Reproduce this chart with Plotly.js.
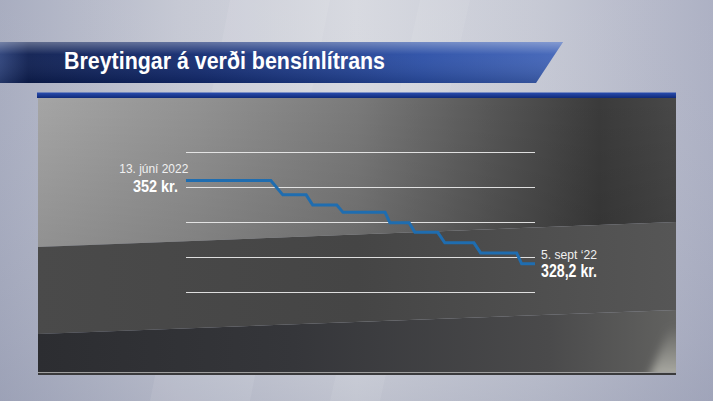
<!DOCTYPE html>
<html>
<head>
<meta charset="utf-8">
<script src="https://cdn.plot.ly/plotly-3.0.1.min.js"></script>
<style>
html,body{margin:0;padding:0;width:713px;height:401px;overflow:hidden;}
#wrap{position:relative;width:713px;height:401px;}
#bg{position:absolute;left:0;top:0;}
#chart{position:absolute;left:0;top:0;width:713px;height:401px;}
</style>
</head>
<body>
<div id="wrap">
<svg id="bg" width="713" height="401" xmlns="http://www.w3.org/2000/svg">
  <defs>
    <linearGradient id="bgG" x1="0" y1="0" x2="1" y2="0">
      <stop offset="0" stop-color="#a4a9bd"/>
      <stop offset="0.25" stop-color="#c3c6d2"/>
      <stop offset="0.5" stop-color="#d6d8df"/>
      <stop offset="0.75" stop-color="#c4c7d3"/>
      <stop offset="1" stop-color="#a9adc1"/>
    </linearGradient>
    <linearGradient id="bgV" x1="0" y1="0" x2="0" y2="1">
      <stop offset="0" stop-color="#ffffff" stop-opacity="0.05"/>
      <stop offset="0.85" stop-color="#8a90a8" stop-opacity="0.15"/>
      <stop offset="1" stop-color="#8a90a8" stop-opacity="0.3"/>
    </linearGradient>
    <linearGradient id="banG" x1="0" y1="0" x2="1" y2="0">
      <stop offset="0" stop-color="#2a3f78"/>
      <stop offset="0.05" stop-color="#0c1d50"/>
      <stop offset="0.35" stop-color="#122a70"/>
      <stop offset="0.75" stop-color="#2a4ea6"/>
      <stop offset="1" stop-color="#4164b8"/>
    </linearGradient>
    <linearGradient id="banH" x1="0" y1="0" x2="0" y2="1">
      <stop offset="0" stop-color="#ffffff" stop-opacity="0.35"/>
      <stop offset="0.3" stop-color="#ffffff" stop-opacity="0.05"/>
      <stop offset="1" stop-color="#000000" stop-opacity="0.15"/>
    </linearGradient>
    <linearGradient id="barG" x1="0" y1="0" x2="0" y2="1">
      <stop offset="0" stop-color="#2a4db0"/>
      <stop offset="1" stop-color="#102a78"/>
    </linearGradient>
    <linearGradient id="gA" x1="0" y1="0" x2="1" y2="0">
      <stop offset="0" stop-color="#a5a5a5"/>
      <stop offset="0.25" stop-color="#929292"/>
      <stop offset="0.5" stop-color="#7a7a7a"/>
      <stop offset="0.72" stop-color="#555555"/>
      <stop offset="0.88" stop-color="#3b3b3b"/>
      <stop offset="1" stop-color="#484848"/>
    </linearGradient>
    <linearGradient id="gAv" x1="0" y1="0" x2="0" y2="1">
      <stop offset="0" stop-color="#000" stop-opacity="0"/>
      <stop offset="1" stop-color="#000" stop-opacity="0.12"/>
    </linearGradient>
    <linearGradient id="gB" x1="0" y1="0" x2="1" y2="0">
      <stop offset="0" stop-color="#4a4a4a"/>
      <stop offset="0.5" stop-color="#454545"/>
      <stop offset="1" stop-color="#565656"/>
    </linearGradient>
    <linearGradient id="gC" x1="0" y1="0" x2="1" y2="0">
      <stop offset="0" stop-color="#2c2d31"/>
      <stop offset="0.4" stop-color="#35363a"/>
      <stop offset="0.8" stop-color="#4a4a4b"/>
      <stop offset="1" stop-color="#626260"/>
    </linearGradient>
    <linearGradient id="flare" x1="0" y1="0" x2="0" y2="1">
      <stop offset="0" stop-color="#e8e8dc" stop-opacity="0"/>
      <stop offset="1" stop-color="#e8e8dc" stop-opacity="0.6"/>
    </linearGradient>
    <filter id="blur" x="-50%" y="-50%" width="200%" height="200%">
      <feGaussianBlur stdDeviation="4"/>
    </filter>
    <clipPath id="panelClip"><rect x="38" y="98" width="638" height="274"/></clipPath>
  </defs>
  <rect x="0" y="0" width="713" height="401" fill="url(#bgG)"/>
  <rect x="0" y="0" width="713" height="401" fill="url(#bgV)"/>
  <polygon points="230,0 330,0 250,401 150,401" fill="#ffffff" opacity="0.08"/>
  <polygon points="420,0 470,0 380,401 330,401" fill="#ffffff" opacity="0.07"/>
  <polygon points="0,42 563,42 536,83 0,83" fill="url(#banG)"/>
  <polygon points="0,42 563,42 536,83 0,83" fill="url(#banH)"/>
  <rect x="37" y="92.5" width="639" height="5.5" fill="url(#barG)"/>
  <polygon points="38,98 676,98 676,222 38,247" fill="url(#gA)"/>
  <polygon points="38,98 676,98 676,222 38,247" fill="url(#gAv)"/>
  <polygon points="38,247 676,222 676,310 38,334" fill="url(#gB)"/>
  <polygon points="38,334 676,310 676,373 38,373" fill="url(#gC)"/>
  <g clip-path="url(#panelClip)">
    <polygon points="670,325 684,325 684,380 648,380" fill="url(#flare)" filter="url(#blur)"/>
  </g>
  <rect x="38" y="372" width="638" height="1" fill="#a0a0a0"/>
  <rect x="38" y="373" width="638" height="2" fill="#3a3a3c"/>
</svg>
<div id="chart"></div>
</div>
<script>
// Price of a litre of petrol (kr.)
const dates = ['2022-06-13','2022-07-03 10:00','2022-07-06 07:00','2022-07-11 22:00','2022-07-13 12:00',
  '2022-07-19 07:00','2022-07-20 19:00','2022-07-30 22:00','2022-08-01 02:00','2022-08-05 17:00',
  '2022-08-07 02:00','2022-08-12 14:00','2022-08-14 07:00','2022-08-21 07:00','2022-08-22 22:00',
  '2022-08-31 14:00','2022-09-01 19:00','2022-09-05'];
const prices = [352,352,347.9,347.9,345,345,342.9,342.9,339.9,339.9,337.2,337.2,334.2,334.2,331.3,331.3,328.2,328.2];
const startLabel = ['13. júní 2022','352 kr.'];
const endLabel = ['5. sept ‘22','328,2 kr.'];
const titleText = 'Breytingar á verði bensínlítrans';

const sans = '"Liberation Sans", Arial, sans-serif';

const trace = {
  x: dates, y: prices, type: 'scatter', mode: 'lines',
  line: {color: '#1f6db0', width: 3},
  hoverinfo: 'skip', cliponaxis: false
};

const first = 0, last = prices.length - 1;
const layout = {
  width: 713, height: 401,
  margin: {l: 186, r: 178, t: 149.4, b: 105.4, pad: 0},
  paper_bgcolor: 'rgba(0,0,0,0)', plot_bgcolor: 'rgba(0,0,0,0)',
  showlegend: false,
  title: {
    text: titleText, xref: 'container', yref: 'container',
    x: 64/713, xanchor: 'left', y: 1 - 61/401, yanchor: 'middle',
    font: {family: sans, size: 23.5, color: '#ffffff', weight: 700}
  },
  xaxis: {
    type: 'date', range: [dates[first], dates[last]],
    showgrid: false, zeroline: false, showline: false, showticklabels: false, ticks: ''
  },
  yaxis: {
    range: [319, 361], tick0: 320, dtick: 10,
    showgrid: true, gridcolor: 'rgba(235,235,235,0.92)', gridwidth: 1.6,
    zeroline: false, showline: false, showticklabels: false, ticks: ''
  },
  annotations: [
    {x: dates[first], y: prices[first], xref: 'x', yref: 'y', text: startLabel[0], showarrow: false,
     xanchor: 'right', yanchor: 'middle', xshift: 4, yshift: 12,
     font: {family: sans, size: 12.5, color: '#f0f0f0'}},
    {x: dates[first], y: prices[first], xref: 'x', yref: 'y', text: startLabel[1], showarrow: false,
     xanchor: 'right', yanchor: 'middle', xshift: -6, yshift: -6,
     font: {family: sans, size: 17, color: '#ffffff', weight: 700}},
    {x: dates[last], y: prices[last], xref: 'x', yref: 'y', text: endLabel[0], showarrow: false,
     xanchor: 'left', yanchor: 'middle', xshift: 4, yshift: 9,
     font: {family: sans, size: 12.5, color: '#f0f0f0'}},
    {x: dates[last], y: prices[last], xref: 'x', yref: 'y', text: endLabel[1], showarrow: false,
     xanchor: 'left', yanchor: 'middle', xshift: 4, yshift: -7,
     font: {family: sans, size: 17.5, color: '#ffffff', weight: 700}}
  ]
};

// condense a text element to a target width, keeping its left or right edge
function squeeze(el, target, keep) {
  if (!el) return;
  const b0 = el.getBBox();
  el.setAttribute('textLength', target);
  el.setAttribute('lengthAdjust', 'spacingAndGlyphs');
  const b1 = el.getBBox();
  const dx = keep === 'right' ? (b0.x + b0.width) - (b1.x + b1.width) : b0.x - b1.x;
  const t = el.getAttribute('transform') || '';
  el.setAttribute('transform', t + ' translate(' + dx + ',0)');
}

Plotly.newPlot('chart', [trace], layout, {staticPlot: true, displayModeBar: false}).then(function (gd) {
  squeeze(gd.querySelector('.gtitle'), 321, 'left');
  const ann = gd.querySelectorAll('.annotation-text');
  squeeze(ann[0], 69, 'right');
  squeeze(ann[1], 45, 'right');
  squeeze(ann[2], 56, 'left');
  squeeze(ann[3], 56, 'left');
});
</script>
</body>
</html>
